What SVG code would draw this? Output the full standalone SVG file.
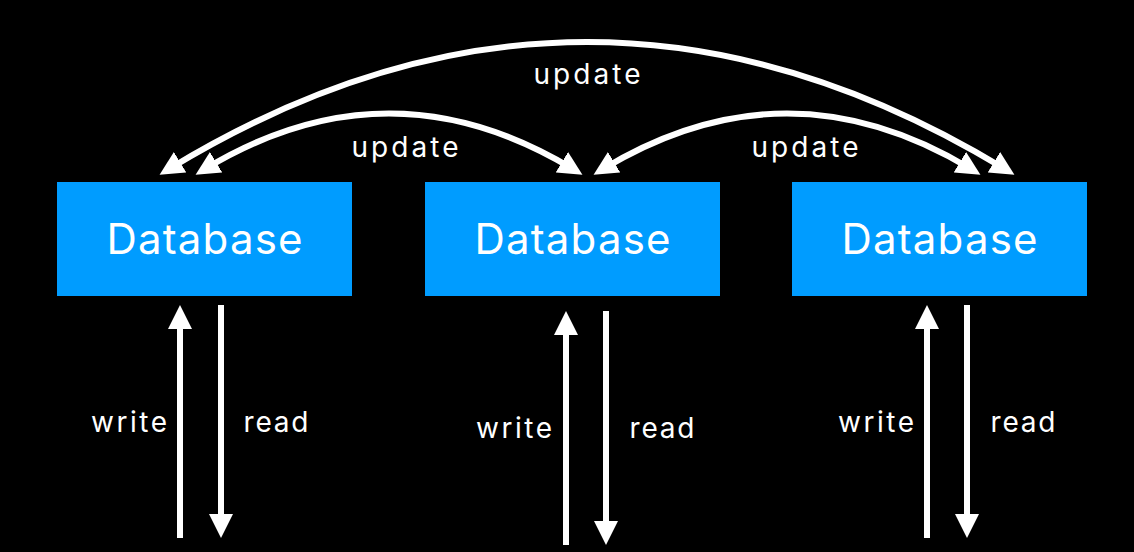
<svg xmlns="http://www.w3.org/2000/svg" width="1134" height="552" viewBox="0 0 1134 552">
  <defs>
    <marker id="ah" markerUnits="userSpaceOnUse" viewBox="0 0 24 24" markerWidth="24" markerHeight="24" refX="13" refY="12" orient="auto-start-reverse">
      <path d="M0,0 L24,12 L0,24 z" fill="#ffffff"/>
    </marker>
    <style>
      .box { fill: #009cff; }
      .db { font-family: Inter, "Liberation Sans", sans-serif; font-size: 42px; fill: #ffffff; text-anchor: middle; }
      .lbl { font-family: Inter, "Liberation Sans", sans-serif; font-size: 28px; fill: #ffffff; text-anchor: middle; }
      .conn { fill: none; stroke: #ffffff; stroke-width: 6; }
    </style>
  </defs>
  <rect x="0" y="0" width="1134" height="552" fill="#000000"/>

  <g id="connectors">
    <path class="conn" d="M169,169 Q587,-85 1005,169" marker-start="url(#ah)" marker-end="url(#ah)"/>
    <path class="conn" d="M205,169 Q389,58 573,169" marker-start="url(#ah)" marker-end="url(#ah)"/>
    <path class="conn" d="M603,169 Q787,58 971,169" marker-start="url(#ah)" marker-end="url(#ah)"/>

    <path class="conn" d="M180,538 L180,316" marker-end="url(#ah)"/>
    <path class="conn" d="M221,305 L221,527" marker-end="url(#ah)"/>
    <path class="conn" d="M566,545 L566,322" marker-end="url(#ah)"/>
    <path class="conn" d="M606,311 L606,534" marker-end="url(#ah)"/>
    <path class="conn" d="M927,538 L927,316" marker-end="url(#ah)"/>
    <path class="conn" d="M967,305 L967,527" marker-end="url(#ah)"/>

    <text class="lbl" x="587" y="84" textLength="107" lengthAdjust="spacing">update</text>
    <text class="lbl" x="405" y="157" textLength="107" lengthAdjust="spacing">update</text>
    <text class="lbl" x="805" y="157" textLength="107" lengthAdjust="spacing">update</text>
    <text class="lbl" x="129" y="432" textLength="76" lengthAdjust="spacing">write</text>
    <text class="lbl" x="276" y="432" textLength="65" lengthAdjust="spacing">read</text>
    <text class="lbl" x="514" y="438" textLength="76" lengthAdjust="spacing">write</text>
    <text class="lbl" x="662" y="438" textLength="65" lengthAdjust="spacing">read</text>
    <text class="lbl" x="876" y="432" textLength="76" lengthAdjust="spacing">write</text>
    <text class="lbl" x="1023" y="432" textLength="65" lengthAdjust="spacing">read</text>
  </g>

  <g id="db1">
    <rect class="box" x="57" y="182" width="295" height="114"/>
    <text class="db" x="204.5" y="254" textLength="196" lengthAdjust="spacing">Database</text>
  </g>
  <g id="db2">
    <rect class="box" x="425" y="182" width="295" height="114"/>
    <text class="db" x="572.5" y="254" textLength="196" lengthAdjust="spacing">Database</text>
  </g>
  <g id="db3">
    <rect class="box" x="792" y="182" width="295" height="114"/>
    <text class="db" x="939.5" y="254" textLength="196" lengthAdjust="spacing">Database</text>
  </g>
</svg>
